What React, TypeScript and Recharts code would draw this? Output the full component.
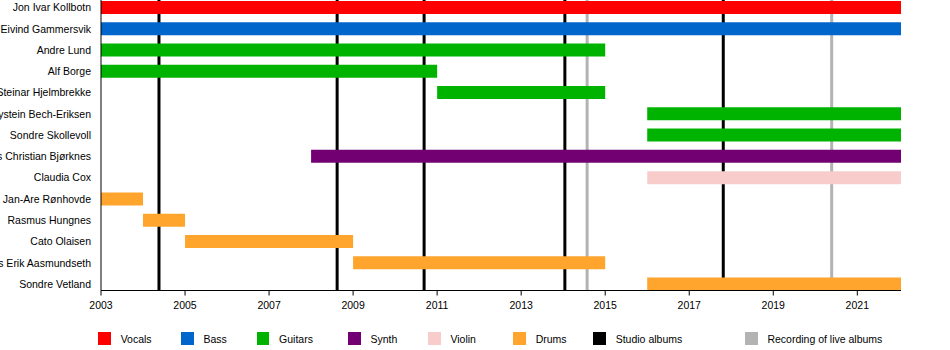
import React from 'react';
import { ComposedChart, Bar, XAxis, YAxis, ReferenceLine, Cell } from 'recharts';

const END = 2022.04;

const members = [
  'Jon Ivar Kollbotn',
  'Eivind Gammersvik',
  'Andre Lund',
  'Alf Borge',
  'Steinar Hjelmbrekke',
  'Øystein Bech-Eriksen',
  'Sondre Skollevoll',
  'Lars Christian Bjørknes',
  'Claudia Cox',
  'Jan-Are Rønhovde',
  'Rasmus Hungnes',
  'Cato Olaisen',
  'Lars Erik Aasmundseth',
  'Sondre Vetland',
];
const memberRoles = [
  'Vocals', 'Bass', 'Guitars', 'Guitars', 'Guitars', 'Guitars', 'Guitars',
  'Synth', 'Violin', 'Drums', 'Drums', 'Drums', 'Drums', 'Drums',
];
const starts = [2003, 2003, 2003, 2003, 2011, 2016, 2016, 2008, 2016, 2003, 2004, 2005, 2009, 2016];
const ends = [END, END, 2015, 2011, 2015, END, END, END, END, 2004, 2005, 2009, 2015, END];

const roleNames = ['Vocals', 'Bass', 'Guitars', 'Synth', 'Violin', 'Drums'];
const roleColors = ['#ff0000', '#0066cc', '#00b300', '#730073', '#f9cccc', '#ffa42c'];

const studioAlbums = [2004.38, 2008.62, 2010.69, 2014.04, 2017.81];
const liveAlbums = [2014.57, 2020.39];

const yearTicks = [2003, 2005, 2007, 2009, 2011, 2013, 2015, 2017, 2019, 2021];

const legendItems = [
  ...roleNames.map((n, i) => ({ name: n, color: roleColors[i] })),
  { name: 'Studio albums', color: '#000000' },
  { name: 'Recording of live albums', color: '#b3b3b3' },
];
const legendX = [98.3, 181, 256.7, 348, 428, 513.3, 593.3, 745];

const rows = members.map((m, i) => ({
  name: m,
  span: [starts[i], ends[i]],
  color: roleColors[roleNames.indexOf(memberRoles[i])],
}));

const FONT = '"Liberation Sans", Arial, sans-serif';
const MARGIN = { top: 0, right: 49, bottom: 29.5, left: 0 };
const YPAD = { top: -3.1, bottom: -4.3 };

const NameTick = (props: any) => {
  const { x, y, payload } = props;
  return (
    <text x={x} y={y} dy="0.355em" textAnchor="end" fill="#000" fontSize={10.5} fontFamily={FONT}>
      {payload.value}
    </text>
  );
};

export default function App() {
  return (
    <div style={{ position: 'absolute', left: 0, top: 0, width: 950, height: 350, background: '#fff', fontFamily: FONT }}>
      <div style={{ position: 'absolute', left: 0, top: 0 }}>
        <ComposedChart layout="vertical" width={950} height={350} data={rows} margin={MARGIN}>
          <XAxis type="number" domain={[2003, END]} ticks={yearTicks} allowDataOverflow height={30} tick={false} axisLine={false} tickLine={false} />
          <YAxis type="category" dataKey="name" width={101} padding={YPAD} tick={false} axisLine={false} tickLine={false} />
          {studioAlbums.map((x) => (
            <ReferenceLine key={'s' + x} x={x} stroke="#000" strokeWidth={3} />
          ))}
          {liveAlbums.map((x) => (
            <ReferenceLine key={'l' + x} x={x} stroke="#b3b3b3" strokeWidth={3} />
          ))}
        </ComposedChart>
      </div>
      <div style={{ position: 'absolute', left: 0, top: 0 }}>
        <ComposedChart layout="vertical" width={950} height={350} data={rows} margin={MARGIN}>
          <XAxis
            type="number"
            domain={[2003, END]}
            ticks={yearTicks}
            allowDataOverflow
            height={30}
            stroke="#000"
            tickSize={5}
            tickMargin={6}
            tick={{ fill: '#000', fontSize: 10.5, fontFamily: FONT }}
            axisLine={{ stroke: '#000' }}
            tickLine={{ stroke: '#000' }}
          />
          <YAxis
            type="category"
            dataKey="name"
            width={101}
            padding={YPAD}
            tickSize={0}
            tickMargin={10}
            interval={0}
            tick={<NameTick />}
            axisLine={{ stroke: '#000' }}
            tickLine={false}
          />
          <Bar dataKey="span" barSize={13} isAnimationActive={false}>
            {rows.map((r, i) => (
              <Cell key={i} fill={r.color} />
            ))}
          </Bar>
        </ComposedChart>
      </div>
      {legendItems.map((it, i) => (
        <div key={it.name} style={{ position: 'absolute', left: legendX[i], top: 331.5 }}>
          <div style={{ position: 'absolute', left: 0, top: 0, width: 12.7, height: 13.3, background: it.color }} />
          <div style={{ position: 'absolute', left: 22.4, top: 1, whiteSpace: 'nowrap', fontSize: 10.5, lineHeight: '13px', color: '#000' }}>
            {it.name}
          </div>
        </div>
      ))}
    </div>
  );
}
